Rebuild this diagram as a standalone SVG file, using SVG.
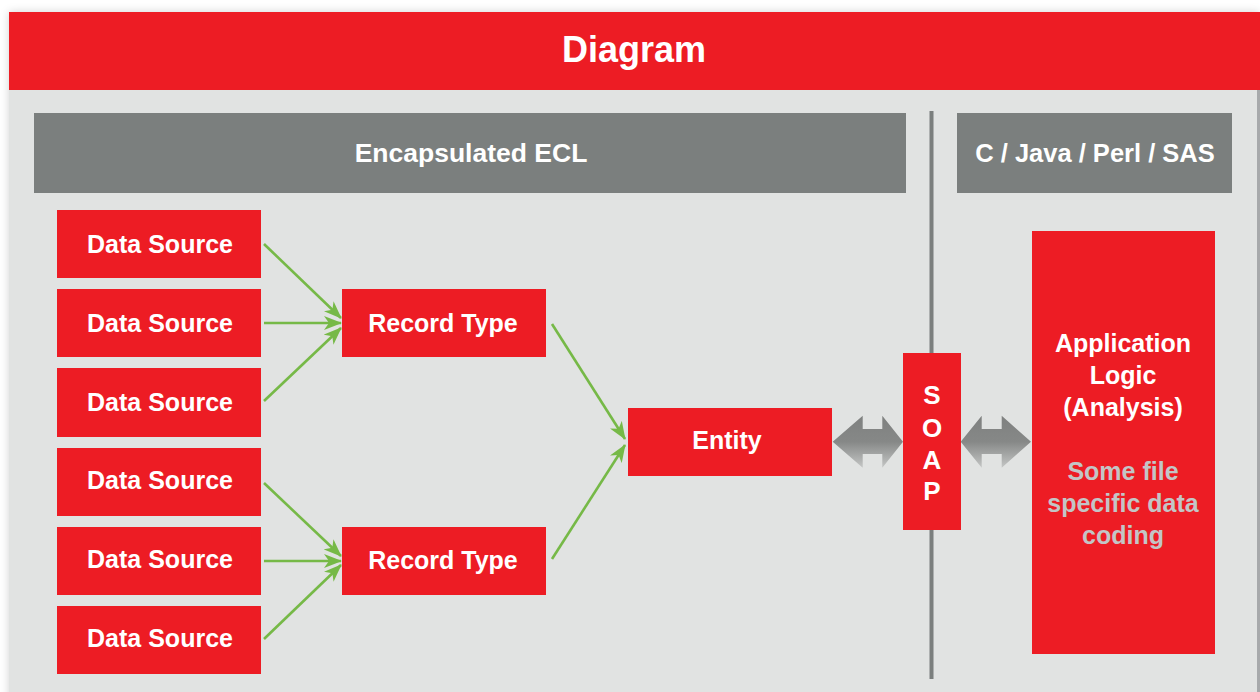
<svg xmlns="http://www.w3.org/2000/svg" width="1260" height="692" viewBox="0 0 1260 692">
  <defs>
    <style>
      .red { fill: #ed1c24; }
      .band { fill: #7b7f7e; }
      .lbl { font-family: "Liberation Sans", Arial, sans-serif; font-weight: bold; fill: #ffffff; text-anchor: middle; }
      .box { font-size: 25px; }
      .note { font-family: "Liberation Sans", Arial, sans-serif; font-weight: bold; fill: #c3c5c6; text-anchor: middle; font-size: 25px; }
      .flow { stroke: #76b947; stroke-width: 2.6; fill: none; marker-end: url(#head); }
      .dbl { fill: url(#steel); }
    </style>
    <marker id="head" viewBox="0 0 18 14" refX="17" refY="7" markerWidth="18" markerHeight="14" markerUnits="userSpaceOnUse" orient="auto">
      <path d="M0,0 L18,7 L0,14 L5,7 Z" fill="#76b947"/>
    </marker>
    <linearGradient id="steel" x1="0" y1="0" x2="0" y2="1">
      <stop offset="0" stop-color="#7f8180"/>
      <stop offset="0.5" stop-color="#868887"/>
      <stop offset="1" stop-color="#c4c6c5"/>
    </linearGradient>
    <filter id="shade" x="-5%" y="-5%" width="110%" height="110%">
      <feDropShadow dx="0" dy="0" stdDeviation="4" flood-color="#000000" flood-opacity="0.18"/>
    </filter>
  </defs>

  <rect width="1260" height="692" fill="#ffffff"/>

  <!-- frame: body and title bar -->
  <g id="frame">
    <rect x="9" y="12" width="1251" height="690" fill="#e1e3e2" filter="url(#shade)"/>
    <rect x="1257" y="90" width="3" height="602" fill="#a7a9ab"/>
    <rect class="red" x="9" y="12" width="1251" height="78"/>
    <text class="lbl" x="634" y="62" font-size="36">Diagram</text>
  </g>

  <!-- section headers -->
  <g id="ecl-header">
    <rect class="band" x="34" y="113" width="872" height="80"/>
    <text class="lbl" x="471" y="162" font-size="26.5">Encapsulated ECL</text>
  </g>
  <g id="lang-header">
    <rect class="band" x="957" y="113" width="275" height="80"/>
    <text class="lbl" x="1095" y="162" font-size="25.5">C / Java / Perl / SAS</text>
  </g>

  <!-- boundary line -->
  <rect id="divider" x="929.5" y="111" width="4" height="568" fill="#7b7f7e"/>

  <!-- data sources -->
  <g id="ds1"><rect class="red" x="57" y="210" width="204" height="68"/><text class="lbl box" x="160" y="253">Data Source</text></g>
  <g id="ds2"><rect class="red" x="57" y="289" width="204" height="68"/><text class="lbl box" x="160" y="332">Data Source</text></g>
  <g id="ds3"><rect class="red" x="57" y="368" width="204" height="69"/><text class="lbl box" x="160" y="411">Data Source</text></g>
  <g id="ds4"><rect class="red" x="57" y="448" width="204" height="68"/><text class="lbl box" x="160" y="489">Data Source</text></g>
  <g id="ds5"><rect class="red" x="57" y="527" width="204" height="68"/><text class="lbl box" x="160" y="568">Data Source</text></g>
  <g id="ds6"><rect class="red" x="57" y="606" width="204" height="68"/><text class="lbl box" x="160" y="647">Data Source</text></g>

  <!-- record types -->
  <g id="rt1"><rect class="red" x="342" y="289" width="204" height="68"/><text class="lbl box" x="443" y="332">Record Type</text></g>
  <g id="rt2"><rect class="red" x="342" y="527" width="204" height="68"/><text class="lbl box" x="443" y="569">Record Type</text></g>

  <!-- entity -->
  <g id="entity"><rect class="red" x="628" y="408" width="204" height="68"/><text class="lbl box" x="727" y="449">Entity</text></g>

  <!-- SOAP -->
  <g id="soap">
    <rect class="red" x="903" y="353" width="58" height="177"/>
    <text class="lbl" font-size="26" x="932" y="404">S</text>
    <text class="lbl" font-size="26" x="932" y="437">O</text>
    <text class="lbl" font-size="26" x="932" y="469">A</text>
    <text class="lbl" font-size="26" x="932" y="500">P</text>
  </g>

  <!-- application logic -->
  <g id="app">
    <rect class="red" x="1032" y="231" width="183" height="423"/>
    <text class="lbl box" x="1123" y="352">Application</text>
    <text class="lbl box" x="1123" y="384">Logic</text>
    <text class="lbl box" x="1123" y="416">(Analysis)</text>
    <text class="note" x="1123" y="480">Some file</text>
    <text class="note" x="1123" y="512">specific data</text>
    <text class="note" x="1123" y="544">coding</text>
  </g>

  <!-- connectors -->
  <g id="connectors">
    <line class="flow" x1="264" y1="244" x2="341" y2="318"/>
    <line class="flow" x1="264" y1="323" x2="341" y2="323"/>
    <line class="flow" x1="264" y1="401" x2="341" y2="328"/>
    <line class="flow" x1="264" y1="483" x2="341" y2="556"/>
    <line class="flow" x1="264" y1="561" x2="341" y2="561"/>
    <line class="flow" x1="264" y1="639" x2="341" y2="565"/>
    <line class="flow" x1="552" y1="324" x2="625" y2="439"/>
    <line class="flow" x1="552" y1="559" x2="625" y2="445"/>
    <path class="dbl" d="M832.7,441.7 L862.7,415.7 L862.7,429 L882.3,429 L882.3,415.7 L903,441.7 L882.3,467.7 L882.3,454 L862.7,454 L862.7,467.7 Z"/>
    <path class="dbl" d="M960.7,441.7 L981.7,415.7 L981.7,429 L1001.7,429 L1001.7,415.7 L1031,441.7 L1001.7,467.7 L1001.7,454 L981.7,454 L981.7,467.7 Z"/>
  </g>
</svg>
